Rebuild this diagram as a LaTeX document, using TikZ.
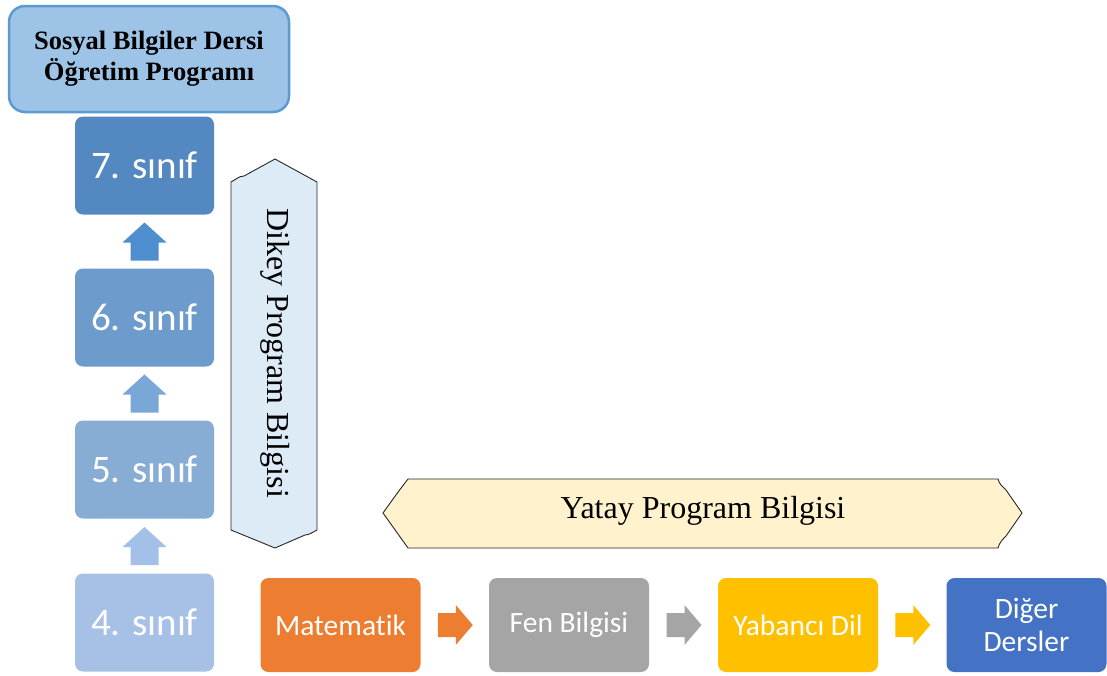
\documentclass[tikz,border=0pt]{standalone}
\usepackage{fontspec}
\setmainfont{Liberation Serif}
\newfontfamily\calfont[Ligatures=NoCommon]{Carlito}
\usetikzlibrary{calc}

\definecolor{titlefill}{HTML}{9DC3E6}
\definecolor{titleline}{HTML}{5B9BD5}
\definecolor{gradeA}{HTML}{5488C1}
\definecolor{gradeB}{HTML}{6D9BCC}
\definecolor{gradeC}{HTML}{87ADD5}
\definecolor{gradeD}{HTML}{A6C1E5}
\definecolor{upA}{HTML}{4E8ECF}
\definecolor{upB}{HTML}{78A7D8}
\definecolor{upC}{HTML}{A2C0E8}
\definecolor{dikeyfill}{HTML}{DDEBF7}
\definecolor{yatayfill}{HTML}{FFF2CC}
\definecolor{matfill}{HTML}{ED7D31}
\definecolor{fenfill}{HTML}{A5A5A5}
\definecolor{dilfill}{HTML}{FFC000}
\definecolor{digfill}{HTML}{4472C4}

\begin{document}
\begin{tikzpicture}[x=1pt,y=-1pt,
  gradebox/.style={rounded corners=8pt, minimum width=139pt, minimum height=98pt,
    inner sep=0pt, text=white, font=\calfont\fontsize{39}{41}\selectfont},
  lessonbox/.style={rounded corners=8pt, minimum width=160pt, minimum height=94pt,
    inner sep=0pt, text=white, align=center, font=\calfont\fontsize{29.5}{33}\selectfont},
  bannertext/.style={font=\fontsize{32}{36}\selectfont},
  bannerline/.style={draw=black!85, line width=0.9pt}]

\useasboundingbox (0,0) rectangle (1107,675);

% curriculum title
\node[draw=titleline, line width=2.5pt, fill=titlefill, rounded corners=16pt,
  minimum width=280pt, minimum height=106pt, align=center,
  font=\bfseries\fontsize{26.5}{31}\selectfont] (title) at (149,59)
  {Sosyal Bilgiler Dersi\\Öğretim Programı};

% grade levels
\node[gradebox, fill=gradeA] (s7) at (144.5,165.5) {7. sınıf};
\node[gradebox, fill=gradeB] (s6) at (144.5,317.5) {6. sınıf};
\node[gradebox, fill=gradeC] (s5) at (144.5,469.5) {5. sınıf};
\node[gradebox, fill=gradeD] (s4) at (144.5,622.5) {4. sınıf};

% upward block arrows between grades
\foreach \lo/\hi/\col in {s6/s7/upA, s5/s6/upB, s4/s5/upC}{
  \coordinate (m) at ($(\lo.north)!0.5!(\hi.south)$);
  \fill[\col, shift={(m)}] (0,-19) -- (22,1) -- (14,1) -- (14,19) -- (-14,19)
    -- (-14,1) -- (-22,1) -- cycle;
}

% vertical banner
\draw[bannerline, fill=dikeyfill] (231,182) .. controls (235,180) and (239,176) .. (244,176)
  -- (275,159) -- (317,182) -- (317,530)
  .. controls (313,532) and (309,535) .. (305,535) -- (275,548) -- (231,530) -- cycle;
\node[bannertext, rotate=-90] (dikey) at (275,353) {Dikey Program Bilgisi};

% horizontal banner
\draw[bannerline, fill=yatayfill] (408,479) -- (998,479)
  .. controls (999,484) and (1003,487) .. (1006,490) -- (1022,513) -- (1006,536)
  .. controls (1003,539) and (999,543) .. (998,548) -- (408,548)
  .. controls (398,534) .. (383,513) .. controls (398,492) .. (408,479) -- cycle;
\node[bannertext] (yatay) at (703,511) {Yatay Program Bilgisi};

% other subjects
\node[lessonbox, fill=matfill] (mat) at (340.5,625) {Matematik};
\node[lessonbox, fill=fenfill] (fen) at (569,625) {Fen Bilgisi};
\node[lessonbox, fill=dilfill] (dil) at (798,625) {Yabancı Dil};
\node[lessonbox, fill=digfill] (dig) at (1026.5,625) {Diğer\\Dersler};

% rightward block arrows between subjects
\foreach \a/\b/\col in {mat/fen/matfill, fen/dil/fenfill, dil/dig/dilfill}{
  \coordinate (m) at ($(\a.east)!0.5!(\b.west)$);
  \fill[\col, shift={(m)}] (-17,-12) -- (1,-12) -- (1,-20) -- (18,0) -- (1,20)
    -- (1,12) -- (-17,12) -- cycle;
}
\end{tikzpicture}
\end{document}
